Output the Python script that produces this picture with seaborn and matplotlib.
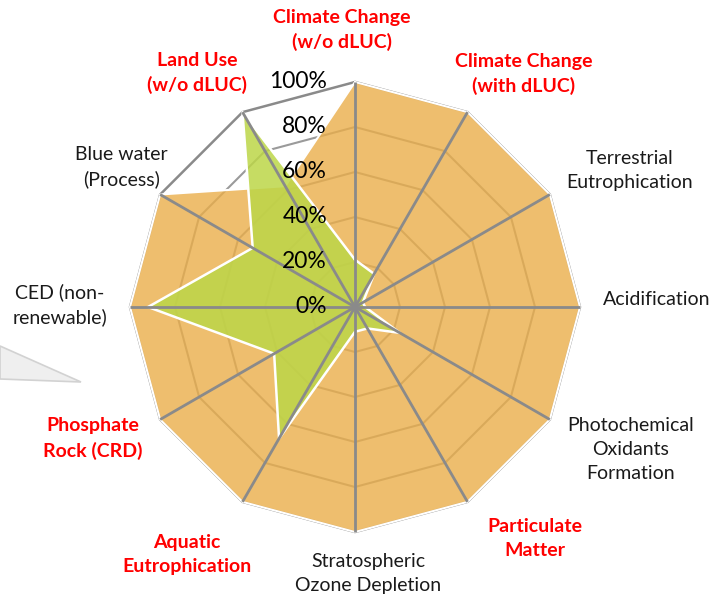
import numpy as np
import pandas as pd
import matplotlib
matplotlib.use("Agg")
import matplotlib.pyplot as plt
import seaborn as sns
from matplotlib.patches import Polygon

# Impact categories, clockwise from the top spoke
categories = [
    "Climate Change\n(w/o dLUC)",
    "Climate Change\n(with dLUC)",
    "Terrestrial\nEutrophication",
    "Acidification",
    "Photochemical\nOxidants\nFormation",
    "Particulate\nMatter",
    "Stratospheric\nOzone Depletion",
    "Aquatic\nEutrophication",
    "Phosphate\nRock (CRD)",
    "CED (non-\nrenewable)",
    "Blue water\n(Process)",
    "Land Use\n(w/o dLUC)",
]
highlighted = [True, True, False, False, False, True, False, True, True, False, False, True]

# Relative scores (% of the maximum) for the two systems
reference_pct = [100, 100, 100, 100, 100, 100, 100, 100, 100, 100, 100, 62]
scenario_pct = [21, 17, 4, 4.5, 23, 11, 11, 67.5, 41.5, 92, 52.5, 100]

ring_ticks = [0, 20, 40, 60, 80, 100]
tick_labels = ["0%", "20%", "40%", "60%", "80%", "100%"]

# Label placement (pixel offsets from each spoke tip)
label_offsets = [(-13.5, 52), (56, 38), (80, 24), (77, 7), (81, -30.5), (67, -36.6),
                 (13, -41), (-55.5, -53), (-67, -19), (-70, 2), (-39, 27.5), (-45.5, 39)]

W, H, DPI = 713, 597, 100
CX, CY, RPX = 355, 307, 225  # centre and 100 % radius in pixels

sns.set_theme(style="white")
plt.rcParams["font.family"] = ["Lato", "DejaVu Sans"]

n = len(categories)
theta = 2 * np.pi * np.arange(n) / n


def to_xy(values):
    r = np.asarray(values, dtype=float) / 100.0
    return r * np.sin(theta), r * np.cos(theta)


def closed(a):
    return np.append(a, a[0])


fig = plt.figure(figsize=(W / DPI, H / DPI), dpi=DPI)
ax = fig.add_axes([0, 0, 1, 1])
ax.set_xlim(-CX / RPX, (W - CX) / RPX)
ax.set_ylim(-(H - CY) / RPX, CY / RPX)
ax.axis("off")

# grey call-out pointer on the left edge
pointer = [(0, 346), (81, 382), (0, 379)]
fig.patches.append(Polygon([(x / W, 1 - y / H) for x, y in pointer], closed=True,
                           transform=fig.transFigure, facecolor="#efefef",
                           edgecolor="#d2d2d2", linewidth=1.2, zorder=0))

# polygonal grid rings
for lvl in ring_ticks[1:]:
    gx, gy = to_xy([lvl] * n)
    ax.plot(closed(gx), closed(gy), color="#9a9a9a" if lvl < 100 else "#8a8a8a",
            lw=1.5 if lvl < 100 else 1.8, zorder=1, solid_joinstyle="miter")

# reference system (orange)
ox, oy = to_xy(reference_pct)
ax.fill(ox, oy, color=(234 / 255, 174 / 255, 74 / 255), alpha=0.8, lw=0, zorder=2)
orange_df = pd.DataFrame({"x": closed(ox), "y": closed(oy)})
sns.lineplot(data=orange_df, x="x", y="y", sort=False, estimator=None, color="white",
             lw=1.5, ax=ax, zorder=3)

# scenario (green)
gx, gy = to_xy(scenario_pct)
ax.fill(gx, gy, color=(188 / 255, 214 / 255, 72 / 255), alpha=0.85, lw=0, zorder=4)
green_df = pd.DataFrame({"x": closed(gx), "y": closed(gy)})
sns.lineplot(data=green_df, x="x", y="y", sort=False, estimator=None, color="white",
             lw=1.8, ax=ax, zorder=5)

# spokes
sx, sy = to_xy([100] * n)
for x, y in zip(sx, sy):
    ax.plot([0, x], [0, y], color="#8a8a8a", lw=2, zorder=6, solid_capstyle="butt")

# radial tick labels along the top spoke
for lvl, lab in zip(ring_ticks, tick_labels):
    ax.annotate(lab, xy=(0, lvl / 100), xytext=(-28, 0), textcoords="offset pixels",
                ha="right", va="center", fontsize=16.5, color="black", zorder=7)

# category labels
for i, (lab, hl) in enumerate(zip(categories, highlighted)):
    ax.annotate(lab, xy=(sx[i], sy[i]), xytext=label_offsets[i], textcoords="offset pixels",
                ha="center", va="center", multialignment="center", fontsize=14,
                fontweight="bold" if hl else "normal",
                color="#ff0000" if hl else "#1a1a1a", linespacing=1.5, zorder=7)

fig.savefig("out.png", dpi=DPI)
